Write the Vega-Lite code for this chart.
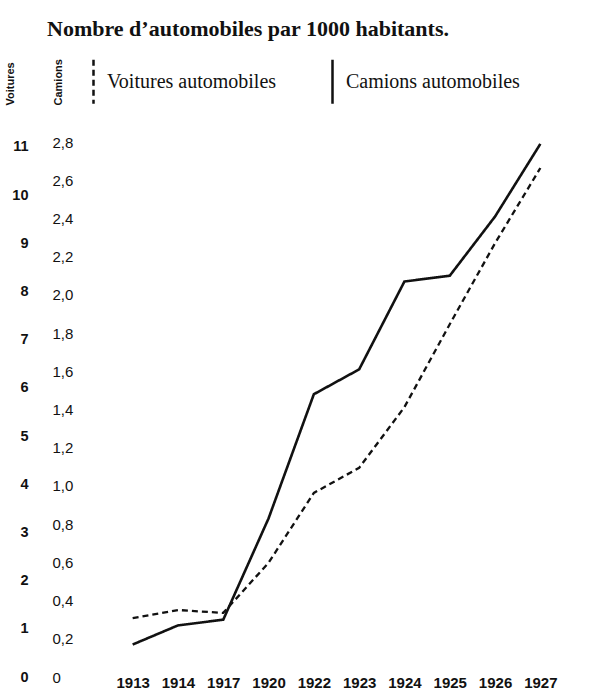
{
  "$schema": "https://vega.github.io/schema/vega-lite/v6.json",
  "autosize": {"type": "none"},
  "width": 453,
  "height": 535,
  "padding": {"left": 110, "top": 142, "right": 32, "bottom": 14},
  "background": "#ffffff",
  "title": {
    "text": "Nombre d’automobiles par 1000 habitants.",
    "font": "Liberation Serif",
    "fontSize": 22,
    "fontWeight": "bold",
    "color": "#111111",
    "anchor": "start",
    "frame": "group",
    "dx": -63,
    "baseline": "alphabetic",
    "offset": 1
  },
  "data": {
    "values": [
      {"year": "1913", "type": "Camions automobiles", "value": 0.17},
      {"year": "1914", "type": "Camions automobiles", "value": 0.27},
      {"year": "1917", "type": "Camions automobiles", "value": 0.30},
      {"year": "1920", "type": "Camions automobiles", "value": 0.83},
      {"year": "1922", "type": "Camions automobiles", "value": 1.48},
      {"year": "1923", "type": "Camions automobiles", "value": 1.61},
      {"year": "1924", "type": "Camions automobiles", "value": 2.07},
      {"year": "1925", "type": "Camions automobiles", "value": 2.10},
      {"year": "1926", "type": "Camions automobiles", "value": 2.41},
      {"year": "1927", "type": "Camions automobiles", "value": 2.79},
      {"year": "1913", "type": "Voitures automobiles", "value": 1.22},
      {"year": "1914", "type": "Voitures automobiles", "value": 1.39},
      {"year": "1917", "type": "Voitures automobiles", "value": 1.33},
      {"year": "1920", "type": "Voitures automobiles", "value": 2.37},
      {"year": "1922", "type": "Voitures automobiles", "value": 3.82},
      {"year": "1923", "type": "Voitures automobiles", "value": 4.34},
      {"year": "1924", "type": "Voitures automobiles", "value": 5.6},
      {"year": "1925", "type": "Voitures automobiles", "value": 7.32},
      {"year": "1926", "type": "Voitures automobiles", "value": 9.0},
      {"year": "1927", "type": "Voitures automobiles", "value": 10.56}
    ]
  },
  "encoding": {
    "x": {
      "field": "year",
      "type": "ordinal",
      "sort": "ascending",
      "scale": {"type": "point", "padding": 0.5},
      "axis": {
        "title": null,
        "orient": "bottom",
        "domain": false,
        "ticks": false,
        "tickSize": 0,
        "grid": false,
        "labelAngle": 0,
        "labelPadding": 5,
        "labelBaseline": "middle",
        "labelFont": "Liberation Sans",
        "labelFontWeight": "bold",
        "labelFontSize": 15,
        "labelColor": "#111111"
      }
    },
    "strokeDash": {
      "field": "type",
      "type": "nominal",
      "scale": {
        "domain": ["Voitures automobiles", "Camions automobiles"],
        "range": [[6, 4], [1, 0]]
      },
      "legend": {
        "title": null,
        "orient": "none",
        "direction": "horizontal",
        "legendX": -28,
        "legendY": -72,
        "padding": 0,
        "symbolType": "M0,-2.2L0,2.2",
        "symbolSize": 400,
        "symbolStrokeColor": "#111111",
        "symbolStrokeWidth": 2.5,
        "labelOffset": 2,
        "columnPadding": 44,
        "labelFont": "Liberation Serif",
        "labelFontSize": 20,
        "labelColor": "#111111",
        "labelLimit": 400,
        "labelBaseline": "middle"
      }
    }
  },
  "layer": [
    {
      "transform": [{"filter": "datum.type === 'Camions automobiles'"}],
      "mark": {"type": "line", "color": "#111111", "strokeWidth": 2.6},
      "encoding": {
        "y": {
          "field": "value",
          "type": "quantitative",
          "scale": {"domain": [0, 2.8], "nice": false},
          "axis": {
            "orient": "left",
            "title": "Camions",
            "titleAngle": 270,
            "titleX": -52,
            "titleY": -37,
            "titleAlign": "left",
            "titleBaseline": "middle",
            "titleFont": "Liberation Sans",
            "titleFontSize": 11,
            "titleFontWeight": "bold",
            "titleColor": "#111111",
            "values": [0, 0.2, 0.4, 0.6, 0.8, 1.0, 1.2, 1.4, 1.6, 1.8, 2.0, 2.2, 2.4, 2.6, 2.8],
            "labelExpr": "datum.value == 0 ? '0' : replace(format(datum.value, '.1f'), '.', ',')",
            "domain": false,
            "ticks": false,
            "tickSize": 0,
            "grid": false,
            "labelAlign": "left",
            "labelBaseline": "middle",
            "labelPadding": 58,
            "labelFont": "Liberation Sans",
            "labelFontSize": 15,
            "labelColor": "#111111"
          }
        }
      }
    },
    {
      "transform": [{"filter": "datum.type === 'Voitures automobiles'"}],
      "mark": {"type": "line", "color": "#111111", "strokeWidth": 2.3},
      "encoding": {
        "y": {
          "field": "value",
          "type": "quantitative",
          "scale": {"domain": [0, 11.1], "nice": false},
          "axis": {
            "orient": "left",
            "title": "Voitures",
            "titleAngle": 270,
            "titleX": -100,
            "titleY": -37,
            "titleAlign": "left",
            "titleBaseline": "middle",
            "titleFont": "Liberation Sans",
            "titleFontSize": 11,
            "titleFontWeight": "bold",
            "titleColor": "#111111",
            "values": [0, 1, 2, 3, 4, 5, 6, 7, 8, 9, 10, 11],
            "format": "d",
            "domain": false,
            "ticks": false,
            "tickSize": 0,
            "grid": false,
            "labelAlign": "right",
            "labelBaseline": "middle",
            "labelPadding": 82,
            "labelFont": "Liberation Sans",
            "labelFontWeight": "bold",
            "labelFontSize": 14.5,
            "labelColor": "#111111"
          }
        }
      }
    }
  ],
  "resolve": {"scale": {"y": "independent"}},
  "config": {
    "view": {"stroke": null},
    "legend": {"labelFont": "Liberation Serif", "labelFontSize": 20}
  }
}
